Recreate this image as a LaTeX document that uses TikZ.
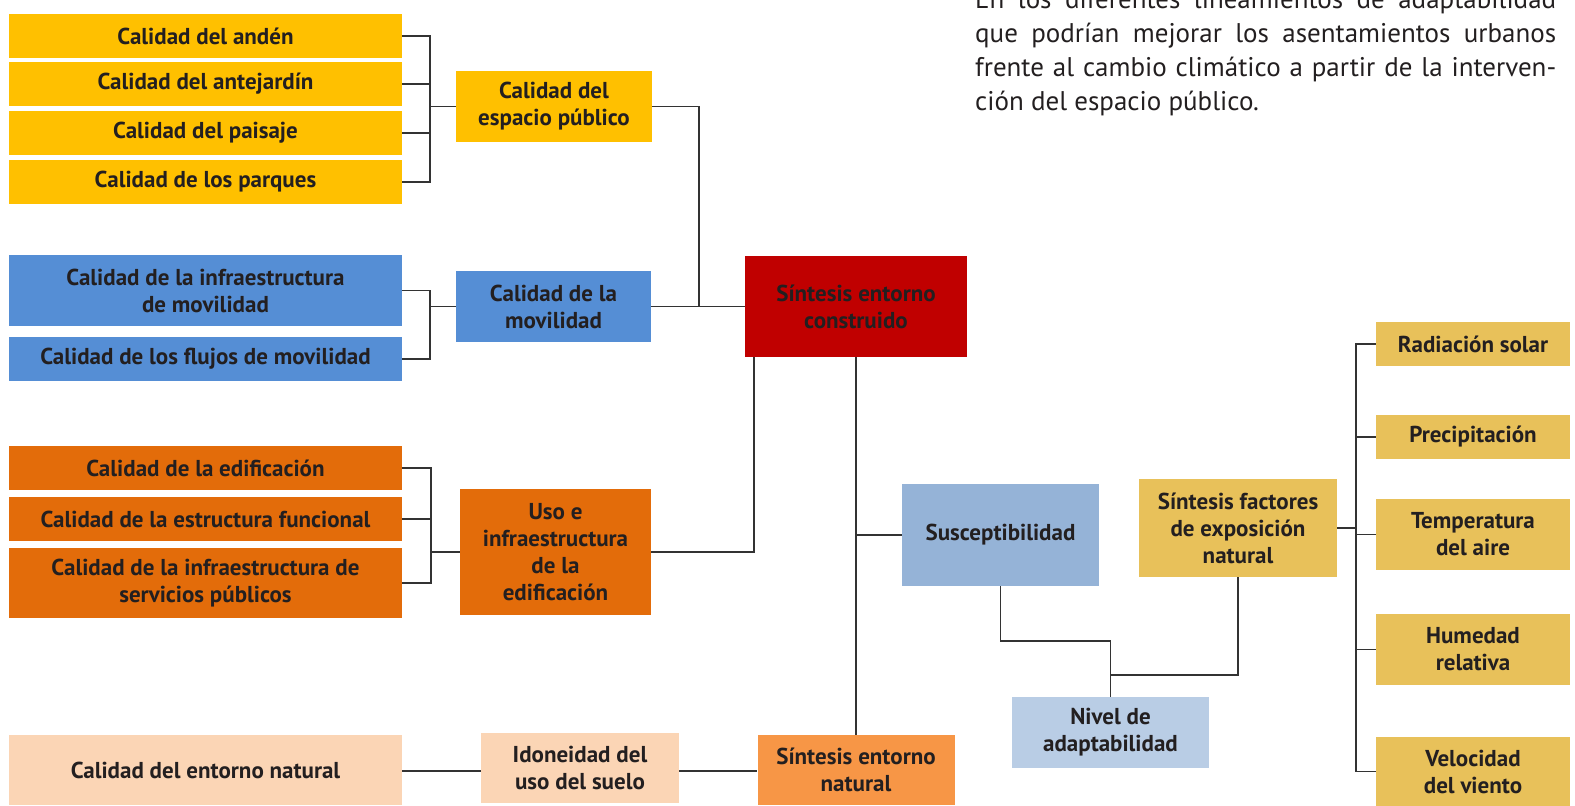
\documentclass[tikz,border=0pt]{standalone}
\usepackage{fontspec}
\setmainfont{PT Sans}
\usetikzlibrary{calc}
\definecolor{cyel}{HTML}{FFC000}
\definecolor{cblu}{HTML}{558ED5}
\definecolor{cred}{HTML}{C00000}
\definecolor{corg}{HTML}{E36C0A}
\definecolor{cpch}{HTML}{FBD5B5}
\definecolor{cnat}{HTML}{F79646}
\definecolor{csus}{HTML}{95B3D7}
\definecolor{cniv}{HTML}{B9CDE5}
\definecolor{cfac}{HTML}{E8C15A}
\definecolor{cline}{HTML}{333333}
\definecolor{ctxt}{HTML}{231F20}
\begin{document}
\begin{tikzpicture}[x=1pt,y=-1pt,
  box/.style={rectangle,inner sep=2pt,align=center,text=ctxt,
    font=\bfseries\fontsize{23}{27}\selectfont},
  conn/.style={draw=cline,line width=1.3pt},
  para/.style={anchor=base west,inner sep=0pt,text=ctxt,font=\fontsize{27}{34}\selectfont}]
\useasboundingbox (0,0) rectangle (1575,806);
% top-right paragraph
\node[para] (p1) at (975,8) {\makebox[581pt][s]{En los diferentes lineamientos de adaptabilidad}};
\node[para] (p2) at (975,42) {\makebox[581pt][s]{que podrían mejorar los asentamientos urbanos}};
\node[para] (p3) at (975,76) {\makebox[581pt][s]{frente al cambio climático a partir de la interven-}};
\node[para] (p4) at (975,110) {ción del espacio público.};
% yellow group
\node[box,fill=cyel,minimum width=393pt,minimum height=44pt] (a1) at (205.5,36) {Calidad del andén};
\node[box,fill=cyel,minimum width=393pt,minimum height=44pt] (a2) at (205.5,84) {Calidad del antejardín};
\node[box,fill=cyel,minimum width=393pt,minimum height=44pt] (a3) at (205.5,133) {Calidad del paisaje};
\node[box,fill=cyel,minimum width=393pt,minimum height=44pt] (a4) at (205.5,182) {Calidad de los parques};
\node[box,fill=cyel,minimum width=196pt,minimum height=71pt] (esp) at (554,106.5) {Calidad del\\espacio público};
% blue group
\node[box,fill=cblu,minimum width=393pt,minimum height=71pt] (b1) at (205.5,290.5) {Calidad de la infraestructura\\de movilidad};
\node[box,fill=cblu,minimum width=393pt,minimum height=44pt] (b2) at (205.5,359) {Calidad de los flujos de movilidad};
\node[box,fill=cblu,minimum width=195pt,minimum height=71pt] (mov) at (553.5,306.5) {Calidad de la\\movilidad};
% red
\node[box,fill=cred,minimum width=222pt,minimum height=101pt] (red) at (856,306.5) {Síntesis entorno\\construido};
% orange group
\node[box,fill=corg,minimum width=393pt,minimum height=44pt] (c1) at (205.5,468) {Calidad de la edificación};
\node[box,fill=corg,minimum width=393pt,minimum height=44pt] (c2) at (205.5,519) {Calidad de la estructura funcional};
\node[box,fill=corg,minimum width=393pt,minimum height=70pt] (c3) at (205.5,583) {Calidad de la infraestructura de\\servicios públicos};
\node[box,fill=corg,minimum width=191pt,minimum height=126pt] (uso) at (555.5,552) {Uso e\\infraestructura\\de la\\edificación};
% natural row
\node[box,fill=cpch,minimum width=393pt,minimum height=70pt] (d1) at (205.5,770) {Calidad del entorno natural};
\node[box,fill=cpch,minimum width=198pt,minimum height=70pt] (ido) at (580,768) {Idoneidad del\\uso del suelo};
\node[box,fill=cnat,minimum width=197pt,minimum height=70pt] (snat) at (856,770) {Síntesis entorno\\natural};
% right part
\node[box,fill=csus,minimum width=197pt,minimum height=102pt] (sus) at (1000.5,535) {Susceptibilidad};
\node[box,fill=cfac,minimum width=198pt,minimum height=98pt] (fac) at (1238,528) {Síntesis factores\\de exposición\\natural};
\node[box,fill=cniv,minimum width=197pt,minimum height=71pt] (niv) at (1110.5,732.5) {Nivel de\\adaptabilidad};
\node[box,fill=cfac,minimum width=194pt,minimum height=44pt] (rad) at (1473,344) {Radiación solar};
\node[box,fill=cfac,minimum width=194pt,minimum height=44pt] (pre) at (1473,437) {Precipitación};
\node[box,fill=cfac,minimum width=194pt,minimum height=71pt] (tem) at (1473,534.5) {Temperatura\\del aire};
\node[box,fill=cfac,minimum width=194pt,minimum height=71pt] (hum) at (1473,649.5) {Humedad\\relativa};
\node[box,fill=cfac,minimum width=194pt,minimum height=70pt] (vel) at (1473,771.5) {Velocidad\\del viento};
% junction coordinates
\coordinate (ja) at (430,106.5);
\coordinate (jb) at (430,306.5);
\coordinate (jc) at (431,552);
\coordinate (jr) at (699,306.5);
\coordinate (ru) at (754,552);
\coordinate (js) at (856,535);
\coordinate (jn1) at (1110.5,641);
\coordinate (jn2) at (1110.5,675);
\coordinate (jf) at (1356,528);
\coordinate (jl) at (440,771);
\coordinate (jm) at (716,771);
% connectors
\draw[conn] (a1.east) -| (ja);
\draw[conn] (a2.east) -| (ja);
\draw[conn] (a3.east) -| (ja);
\draw[conn] (a4.east) -| (ja);
\draw[conn] (ja) -- (esp.west);
\draw[conn] (esp.east) -| (jr);
\draw[conn] (b1.east) -| (jb);
\draw[conn] (b2.east) -| (jb);
\draw[conn] (jb) -- (mov.west);
\draw[conn] (mov.east) -- (red.west);
\draw[conn] (c1.east) -| (jc);
\draw[conn] (c2.east) -| (jc);
\draw[conn] (c3.east) -| (jc);
\draw[conn] (jc) -- (uso.west);
\draw[conn] (ru |- red.south) -- (ru) -- (uso.east);
\draw[conn] (red.south) -- (snat.north);
\draw[conn] (js) -- (sus.west);
\draw[conn] (d1.east |- jl) -- (ido.west |- jl);
\draw[conn] (ido.east |- jm) -- (snat.west |- jm);
\draw[conn] (sus.south) |- (jn1) -- (niv.north);
\draw[conn] (fac.south) |- (jn2);
\draw[conn] (fac.east) -- (jf);
\draw[conn] (rad.west) -| (jf);
\draw[conn] (pre.west) -| (jf);
\draw[conn] (tem.west) -| (jf);
\draw[conn] (hum.west) -| (jf);
\draw[conn] (vel.west) -| (jf);
\end{tikzpicture}
\end{document}
